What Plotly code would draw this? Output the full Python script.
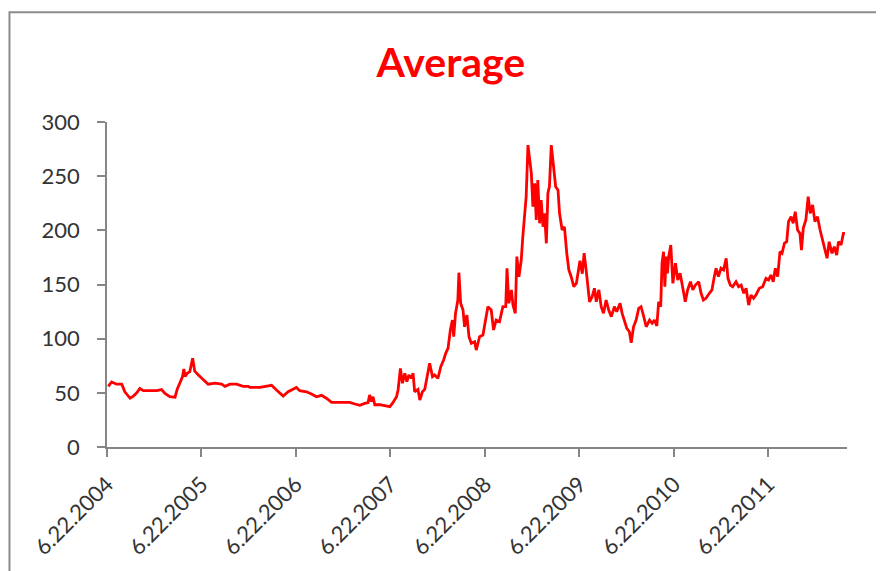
import pandas as pd
import plotly.graph_objects as go

START = pd.Timestamp("2004-06-22")

days = [
    5, 18, 37, 57, 69, 89, 102, 115, 127, 140, 166, 192, 211, 224, 243, 263, 271, 282, 292, 297,
    302, 310, 320, 331, 339, 353, 372, 391, 417, 443, 456, 475, 501, 526, 546, 552, 591, 610, 636, 655,
    668, 681, 700, 719, 732, 745, 771, 790, 810, 829, 848, 868, 887, 912, 938, 958, 977, 996, 1009, 1015,
    1022, 1028, 1035, 1054, 1073, 1093, 1105, 1119, 1125, 1134, 1142, 1151, 1159, 1167, 1176, 1183, 1189, 1202, 1209, 1219,
    1228, 1241, 1247, 1258, 1266, 1279, 1290, 1301, 1309, 1318, 1327, 1335, 1340, 1347, 1356, 1360, 1367, 1376, 1382, 1391,
    1399, 1408, 1421, 1427, 1437, 1440, 1453, 1459, 1472, 1485, 1494, 1504, 1517, 1530, 1541, 1546, 1553, 1563, 1569, 1578,
    1584, 1592, 1601, 1607, 1614, 1620, 1627, 1633, 1640, 1646, 1653, 1659, 1665, 1672, 1678, 1685, 1691, 1698, 1704, 1710,
    1717, 1726, 1734, 1743, 1749, 1759, 1768, 1777, 1785, 1794, 1804, 1814, 1822, 1828, 1837, 1844, 1852, 1859, 1865, 1875,
    1884, 1891, 1901, 1910, 1919, 1929, 1939, 1949, 1961, 1970, 1983, 1991, 2000, 2009, 2019, 2026, 2035, 2045, 2055, 2064,
    2073, 2084, 2097, 2107, 2116, 2125, 2132, 2140, 2145, 2151, 2156, 2161, 2166, 2171, 2179, 2187, 2197, 2206, 2215, 2225,
    2235, 2244, 2255, 2264, 2274, 2287, 2296, 2305, 2315, 2328, 2338, 2347, 2354, 2363, 2373, 2383, 2393, 2400, 2409, 2418,
    2431, 2441, 2451, 2461, 2470, 2480, 2489, 2499, 2508, 2521, 2534, 2547, 2557, 2566, 2575, 2583, 2592, 2601, 2609, 2618,
    2627, 2634, 2644, 2652, 2660, 2669, 2678, 2684, 2691, 2701, 2710, 2718, 2727, 2736, 2746, 2756, 2766, 2776, 2783, 2791,
    2802, 2811, 2820, 2827, 2837, 2846, 2852,
]
values = [
    56, 60, 58, 58, 51, 45, 47, 50, 54, 52, 52, 52, 53, 49.5, 46.5, 46, 53, 59, 65, 72,
    65, 68, 69.5, 82, 70, 66.5, 62.5, 58, 59, 58, 56, 58, 58, 56, 56, 55, 55, 56, 57, 52.6,
    49.5, 47, 51, 53, 55, 52, 51, 49, 46.4, 47.7, 45, 41.2, 41.2, 41, 41.2, 39.7, 38.5, 40.3, 41, 48,
    42, 46.4, 39, 39, 38, 37.2, 40.9, 46.4, 52.6, 72.6, 58.8, 68, 60.3, 66.5, 63.4, 68, 51, 53.2, 43.4, 51,
    53.2, 68, 77.3, 64.9, 66.5, 63.4, 74.1, 80.3, 86.5, 91.1, 108, 117.2, 101.8, 123.4, 135.7, 160.9, 132.6, 126.5, 111, 121.8,
    101.8, 95.7, 97.2, 89.5, 98.8, 101.8, 103.4, 111, 129.5, 126.5, 108, 117.2, 115.7, 129.5, 129.5, 165, 132.6, 145, 131, 123.4,
    175.7, 157.2, 172.6, 194, 218.8, 231, 278.7, 268, 252.6, 221.8, 243.4, 209.5, 246.4, 206.5, 228, 203.3, 215.7, 188, 234.2, 240.3,
    278.7, 258.7, 240.3, 237.2, 215.7, 200.3, 203.3, 178.8, 163.4, 157.2, 148, 151, 166, 172, 160, 179, 163, 145, 134, 138.7,
    146.5, 134.1, 145, 129.5, 123.4, 135.7, 126.5, 120.3, 129.5, 124.9, 132.6, 123.4, 117.2, 109.5, 106.4, 96.3, 111, 117.2, 128, 129.5,
    121.8, 111, 117.2, 114.2, 117.2, 111.7, 134.1, 129.5, 169.6, 180.3, 148, 175.7, 160.3, 175.7, 186.5, 151, 169.6, 154.2, 160.3, 148,
    134.1, 145, 152.6, 145, 149.5, 152.6, 141.9, 135.7, 137.3, 141.9, 145, 157.2, 165, 157.2, 165, 163.4, 174.2, 155.7, 149.5, 148,
    152.6, 148, 149.5, 141.9, 146.5, 131, 140.3, 137.3, 140.3, 146.5, 148, 155.7, 154.2, 158.8, 152.6, 165, 157.2, 180.3, 178.8, 188,
    189.5, 208, 212.6, 206.5, 217.2, 200.3, 197.2, 181.8, 201.8, 209.5, 231, 215.7, 223.4, 208, 212.6, 200.3, 189.5, 180.3, 174.2, 189.5,
    178.8, 184.9, 177.2, 189.5, 186.5, 197.2, 197.2,
]

tick_years = [2004, 2005, 2006, 2007, 2008, 2009, 2010, 2011]
tick_labels = [f"6.22.{y}" for y in tick_years]
y_ticks = [0, 50, 100, 150, 200, 250, 300]

dates = START + pd.to_timedelta(days, unit="D")
tick_dates = [pd.Timestamp(f"{y}-06-22") for y in tick_years]

AXIS_GRAY = "#868686"
TICK_FONT = dict(family="Lato, Carlito, sans-serif", size=22, color="#333333")

fig = go.Figure(
    go.Scatter(
        x=dates,
        y=values,
        mode="lines",
        line=dict(color="#ff0000", width=2.8),
        showlegend=False,
    )
)

fig.update_layout(
    width=884,
    height=571,
    paper_bgcolor="white",
    plot_bgcolor="white",
    margin=dict(l=99, r=45, t=114, b=132),
    title=dict(
        text="<b>Average</b>",
        x=0.501,
        xanchor="center",
        y=0.904,
        yanchor="middle",
        font=dict(family="Lato, Carlito, sans-serif", size=41, color="#ff0000"),
    ),
    xaxis=dict(
        type="date",
        range=[START, START + pd.Timedelta(days=2860)],
        tickvals=tick_dates,
        ticktext=tick_labels,
        tickangle=-45,
        ticks="outside",
        ticklen=8,
        tickwidth=1.5,
        tickcolor=AXIS_GRAY,
        ticklabelstandoff=6,
        showline=True,
        linecolor=AXIS_GRAY,
        linewidth=1.5,
        showgrid=False,
        zeroline=False,
        tickfont=TICK_FONT,
    ),
    yaxis=dict(
        range=[0, 300],
        tickvals=y_ticks,
        ticks="outside",
        ticklen=8,
        tickwidth=1.5,
        tickcolor=AXIS_GRAY,
        ticklabelstandoff=13,
        showline=True,
        linecolor=AXIS_GRAY,
        linewidth=1.5,
        showgrid=False,
        zeroline=False,
        tickfont=TICK_FONT,
    ),
    shapes=[
        dict(
            type="rect",
            xref="paper",
            yref="paper",
            x0=-0.1318,
            x1=1.12,
            y0=-0.45,
            y1=1.338,
            line=dict(color="#8c8c8c", width=2),
            fillcolor="rgba(0,0,0,0)",
            layer="below",
        )
    ],
)

fig.write_html("out.html")
